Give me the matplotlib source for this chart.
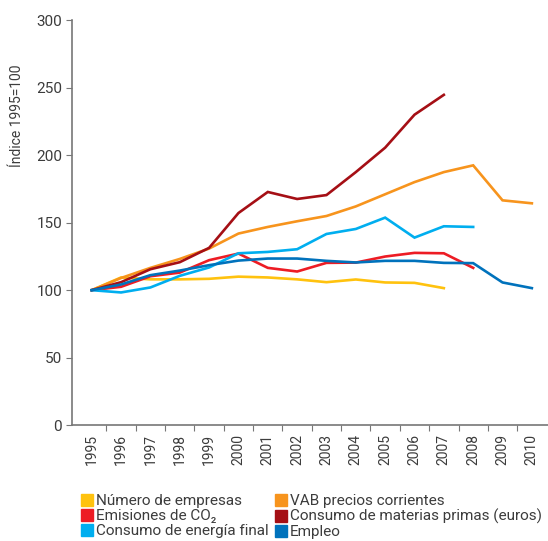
import matplotlib
matplotlib.use('Agg')
import matplotlib.pyplot as plt
from matplotlib.lines import Line2D
import numpy as np

plt.rcParams['font.family'] = ['Roboto', 'DejaVu Sans']

years = [str(y) for y in range(1995, 2011)]

empresas = [100, 109.4, 108, 108, 108.4, 110, 109.4, 108, 105.9, 107.9, 105.7, 105.4, 101.5]
vab = [100, 109, 116.5, 123.1, 130.8, 141.9, 146.8, 151, 154.9, 162, 171, 180, 187.4, 192.4, 166.5, 164.3]
co2 = [100, 102.5, 110.3, 113, 122.2, 127.1, 116.5, 113.8, 120.2, 120.4, 124.9, 127.6, 127.3, 116.5]
materias = [100, 105.9, 115.5, 120.7, 131.3, 157.1, 172.7, 167.5, 170.4, 187.4, 205.5, 229.9, 244.6]
energia = [100, 98.3, 102, 110.6, 116.8, 127.3, 128.3, 130.3, 141.6, 145.3, 153.7, 138.9, 147.3, 146.8]
empleo = [100, 104.2, 111.1, 114.5, 118.5, 121.9, 123.4, 123.4, 121.7, 120.5, 121.7, 121.7, 120.2, 120, 105.7, 101.5]

series = [
    ("Número de empresas", empresas, "#FFC20E"),
    ("VAB precios corrientes", vab, "#F7941D"),
    ("Emisiones de CO₂", co2, "#ED1C24"),
    ("Consumo de materias primas (euros)", materias, "#A50F15"),
    ("Consumo de energía final", energia, "#00AEEF"),
    ("Empleo", empleo, "#0072BC"),
]

fig = plt.figure(figsize=(5.48, 5.41), dpi=100)
ax = fig.add_axes([0.131, 0.214, 0.869, 0.749])

for name, vals, col in series:
    ax.plot(np.arange(len(vals)), vals, color=col, linewidth=1.9, solid_joinstyle='miter')

ax.set_ylim(0, 300)
ax.set_xlim(-0.68, 15.55)
ax.set_yticks(range(0, 301, 50))
ax.set_xticks(np.arange(0.5, 15.5, 1.0))
ax.set_xticklabels([])
ax.set_xticks(np.arange(16), minor=True)
ax.set_xticklabels(years, minor=True, rotation=90)
ax.tick_params(axis='x', which='minor', length=0, pad=6, labelsize=10, labelcolor='#3c3c3c')
ax.tick_params(axis='x', which='major', length=4, color='#777777')
ax.tick_params(axis='y', length=4, color='#777777', labelsize=11, labelcolor='#3c3c3c', pad=3)

for s in ['top', 'right']:
    ax.spines[s].set_visible(False)
for s in ['left', 'bottom']:
    ax.spines[s].set_color('#777777')
    ax.spines[s].set_linewidth(1.2)

fig.text(17 / 548, 1 - 116 / 541, "Índice 1995=100", rotation=90, ha='center', va='center',
         fontsize=10, color='#3c3c3c')

order = [0, 2, 4, 1, 3, 5]
handles = [Line2D([], [], linestyle='none', marker='s', markersize=8, color=series[i][2]) for i in order]
labels = [series[i][0] for i in order]
fig.legend(handles, labels, ncol=2, frameon=False, loc='upper left',
           bbox_to_anchor=(80 / 548, 1 - 494 / 541), fontsize=11, labelcolor='#3c3c3c',
           handletextpad=0.15, columnspacing=0.35, labelspacing=0.07, handlelength=0.9,
           borderaxespad=0, borderpad=0)

plt.savefig("out.png", dpi=100)
